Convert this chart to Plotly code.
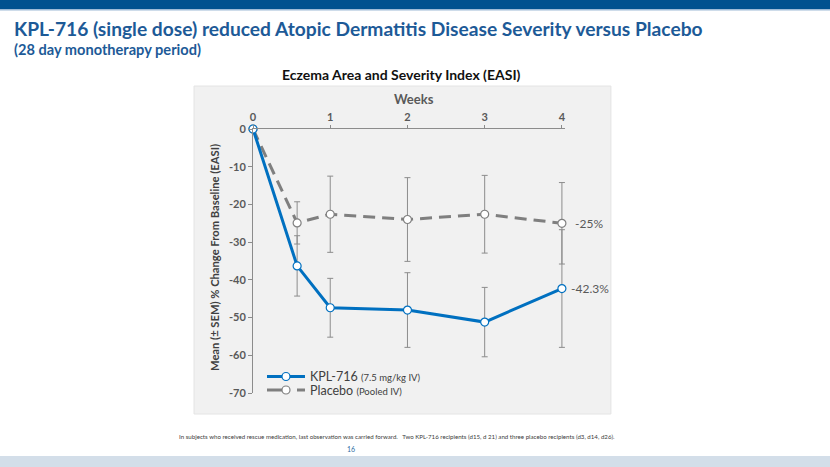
import plotly.graph_objects as go

# ---------------- data ----------------
weeks = [0, 4/7, 1, 2, 3, 4]
kpl_mean = [0, -36.3, -47.4, -48.0, -51.2, -42.3]
kpl_sem = [0, 8.0, 7.8, 9.9, 9.2, 15.6]
pbo_mean = [0, -24.9, -22.6, -24.0, -22.6, -25.0]
pbo_sem = [0, 5.6, 10.1, 11.1, 10.3, 10.8]
x_ticks = [0, 1, 2, 3, 4]
y_ticks = [0, -10, -20, -30, -40, -50, -60, -70]
end_labels = ["-42.3%", "-25%"]

W, H = 830, 467
L, T, B = 253, 129, 393
X_MAX = 4.04
R = L + (562 - 253) * X_MAX / 4

def px(x):
    return (x - L) / (R - L)

def py(y):
    return (B - y) / (B - T)

FONT = "Lato"
BLUE = "#0070C0"
GREY = "#7F7F7F"
ERR = "#8C8C8C"

fig = go.Figure()

fig.add_trace(go.Scatter(
    x=weeks, y=pbo_mean, mode="lines+markers", name="Placebo",
    line=dict(color=GREY, width=3, dash="12px,7px"),
    marker=dict(size=8, color="white", line=dict(color=GREY, width=1.2)),
    error_y=dict(type="data", array=pbo_sem, color=ERR, thickness=1, width=3),
    cliponaxis=False, showlegend=False, hoverinfo="skip"))

fig.add_trace(go.Scatter(
    x=weeks, y=kpl_mean, mode="lines+markers", name="KPL-716",
    line=dict(color=BLUE, width=3),
    marker=dict(size=8, color="white", line=dict(color=BLUE, width=1.2)),
    error_y=dict(type="data", array=kpl_sem, color=ERR, thickness=1, width=3),
    cliponaxis=False, showlegend=False, hoverinfo="skip"))

shapes = []
# grey chart box
shapes.append(dict(type="rect", xref="paper", yref="paper", layer="below",
                   x0=px(194), x1=px(611), y0=py(414), y1=py(86),
                   fillcolor="#F1F1F1", line=dict(color="#E4E4E4", width=1)))
# top banner
shapes.append(dict(type="rect", xref="paper", yref="paper", layer="below",
                   x0=px(-5), x1=px(835), y0=py(9), y1=py(-5),
                   fillcolor="#00518F", line=dict(width=0)))
shapes.append(dict(type="rect", xref="paper", yref="paper", layer="below",
                   x0=px(-5), x1=px(835), y0=py(10.5), y1=py(9),
                   fillcolor="#9DBAD6", line=dict(width=0)))
# bottom band
shapes.append(dict(type="rect", xref="paper", yref="paper", layer="below",
                   x0=px(-5), x1=px(835), y0=py(472), y1=py(456),
                   fillcolor="#D3DEE9", line=dict(width=0)))

# manual legend
def leg_line(x0, x1, y, color, dash="solid"):
    shapes.append(dict(type="line", xref="paper", yref="paper",
                       x0=px(x0), x1=px(x1), y0=py(y), y1=py(y),
                       line=dict(color=color, width=3, dash=dash)))

def leg_marker(x, y, color):
    shapes.append(dict(type="circle", xref="paper", yref="paper",
                       xsizemode="pixel", ysizemode="pixel",
                       xanchor=px(x), yanchor=py(y), x0=-4, x1=4, y0=-4, y1=4,
                       fillcolor="white", line=dict(color=color, width=1.2)))

leg_line(267, 305, 376.5, BLUE)
leg_marker(286, 376.5, BLUE)
leg_line(267, 282, 390, GREY)
leg_line(297, 305, 390, GREY)
leg_marker(286, 390, GREY)

annotations = []

def txt(text, x, y, size, color, bold=False, xanchor="left", angle=0):
    annotations.append(dict(
        text=f"<b>{text}</b>" if bold else text, xref="paper", yref="paper",
        x=px(x), y=py(y), xanchor=xanchor, yanchor="middle", showarrow=False,
        textangle=angle, font=dict(family=FONT, size=size, color=color)))

txt("KPL-716 (single dose) reduced Atopic Dermatitis Disease Severity versus Placebo",
    12, 28, 19.2, "#1D5A97", bold=True)
txt("(28 day monotherapy period)", 12, 50, 14.6, "#1D5A97", bold=True)
txt("Eczema Area and Severity Index (EASI)", 402, 75, 14, "#111111", bold=True, xanchor="center")
txt("Weeks", 414, 99, 13, "#595959", bold=True, xanchor="center")
txt("Mean (± SEM) % Change From Baseline (EASI)", 214, 258, 11.2, "#404040", bold=True,
    xanchor="center", angle=-90)
txt("KPL-716 <span style='font-size:9.5px'>(7.5 mg/kg IV)</span>", 308, 376.5, 12.5, "#404040")
txt("Placebo <span style='font-size:9.5px'>(Pooled IV)</span>", 308, 390, 12.5, "#404040")
txt("In subjects who received rescue medication, last observation was carried forward.&nbsp;&nbsp;&nbsp;"
    "Two KPL-716 recipients (d15, d 21) and three placebo recipients (d3, d14, d26).",
    177, 436, 6.15, "#404040")
txt("16", 351, 449, 7, "#2E6DA4", xanchor="center")

# end-point data labels
annotations.append(dict(x=weeks[-1], y=kpl_mean[-1], xref="x", yref="y", text=end_labels[0],
                        showarrow=False, xanchor="left", yanchor="middle", xshift=7,
                        font=dict(family=FONT, size=12, color="#595959")))
annotations.append(dict(x=weeks[-1], y=pbo_mean[-1], xref="x", yref="y", text=end_labels[1],
                        showarrow=False, xanchor="left", yanchor="middle", xshift=11,
                        font=dict(family=FONT, size=12, color="#595959")))

fig.update_layout(
    width=W, height=H, autosize=False,
    margin=dict(l=L, r=W - R, t=T, b=H - B),
    paper_bgcolor="white", plot_bgcolor="rgba(0,0,0,0)",
    shapes=shapes, annotations=annotations, showlegend=False, hovermode=False,
    xaxis=dict(range=[0, X_MAX], side="top", tickvals=x_ticks, ticktext=[str(v) for v in x_ticks],
               showgrid=False, zeroline=False, showline=True, linecolor="#8C8C8C", linewidth=1,
               ticks="outside", ticklen=3, tickcolor="#8C8C8C", fixedrange=True,
               tickfont=dict(family=FONT, size=11, color="#595959", weight="bold")),
    yaxis=dict(range=[-70, 0], tickvals=y_ticks, ticktext=[str(v) for v in y_ticks],
               showgrid=False, zeroline=False, showline=True, linecolor="#8C8C8C", linewidth=1,
               ticks="outside", ticklen=4, tickcolor="#8C8C8C", fixedrange=True,
               tickfont=dict(family=FONT, size=11, color="#595959", weight="bold")),
)

fig.write_html("out.html", config={"displayModeBar": False, "staticPlot": True},
               post_script="document.body.style.margin='0';document.body.style.overflow='hidden';")
